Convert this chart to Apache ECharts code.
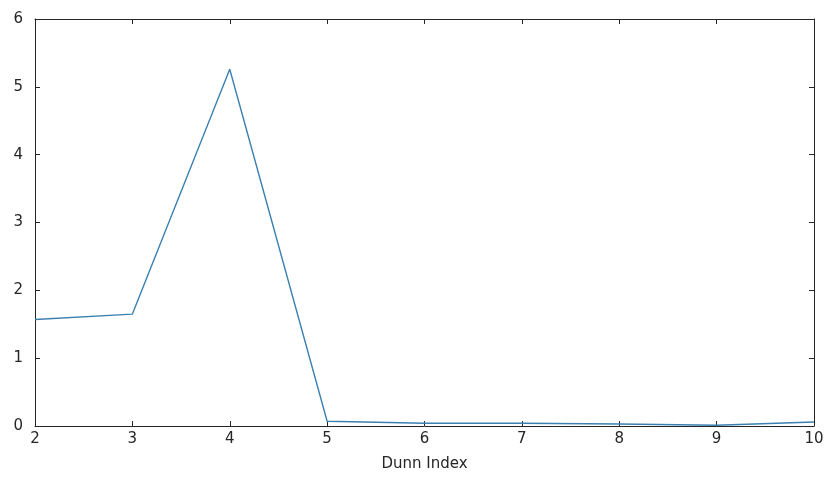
<!DOCTYPE html>
<html>
<head>
<meta charset="utf-8">
<script src="https://cdn.jsdelivr.net/npm/echarts@6/dist/echarts.min.js"></script>
<style>
  html, body { margin: 0; padding: 0; background: #fff; }
  #chart { width: 830px; height: 477px; }
</style>
</head>
<body>
<div id="chart"></div>
<script>
// 数据：簇数 与 Dunn 指数
var clusters = [2, 3, 4, 5, 6, 7, 8, 9, 10];
var dunnValues = [1.57, 1.65, 5.26, 0.07, 0.04, 0.04, 0.03, 0.01, 0.06];
var yTicks = [0, 1, 2, 3, 4, 5, 6];

var axisColor = '#262626';
var labelFont = { color: '#262626', fontSize: 15, fontFamily: 'DejaVu Sans, sans-serif' };

function boxAxis(pos, isX) {
    // 上边和右边的镜像坐标轴，只画刻度
    return {
        type: 'value',
        position: pos,
        min: isX ? 2 : 0,
        max: isX ? 10 : 6,
        interval: 1,
        axisLine: { show: true, onZero: false, lineStyle: { color: axisColor, width: 1 } },
        axisTick: { show: true, inside: true, length: 5, lineStyle: { color: axisColor } },
        axisLabel: { show: false },
        splitLine: { show: false }
    };
}

var option = {
    animation: false,
    backgroundColor: '#fff',
    grid: { left: 35, right: 16, top: 19, bottom: 50 },
    xAxis: [
        {
            type: 'value',
            position: 'bottom',
            min: 2,
            max: 10,
            interval: 1,
            name: 'Dunn Index',
            nameLocation: 'middle',
            nameGap: 31,
            nameTextStyle: labelFont,
            axisLine: { show: true, onZero: false, lineStyle: { color: axisColor, width: 1 } },
            axisTick: { show: true, inside: true, length: 5, lineStyle: { color: axisColor } },
            axisLabel: Object.assign({ margin: 6 }, labelFont),
            splitLine: { show: false }
        },
        boxAxis('top', true)
    ],
    yAxis: [
        {
            type: 'value',
            position: 'left',
            min: yTicks[0],
            max: yTicks[yTicks.length - 1],
            interval: 1,
            axisLine: { show: true, onZero: false, lineStyle: { color: axisColor, width: 1 } },
            axisTick: { show: true, inside: true, length: 5, lineStyle: { color: axisColor } },
            axisLabel: Object.assign({ margin: 12 }, labelFont),
            splitLine: { show: false }
        },
        boxAxis('right', false)
    ],
    series: [
        {
            type: 'line',
            data: clusters.map(function (c, i) { return [c, dunnValues[i]]; }),
            showSymbol: false,
            symbol: 'none',
            lineStyle: { color: '#3a80b0', width: 1.4 },
            itemStyle: { color: '#3a80b0' }
        }
    ]
};

echarts.init(document.getElementById('chart')).setOption(option);
</script>
</body>
</html>
